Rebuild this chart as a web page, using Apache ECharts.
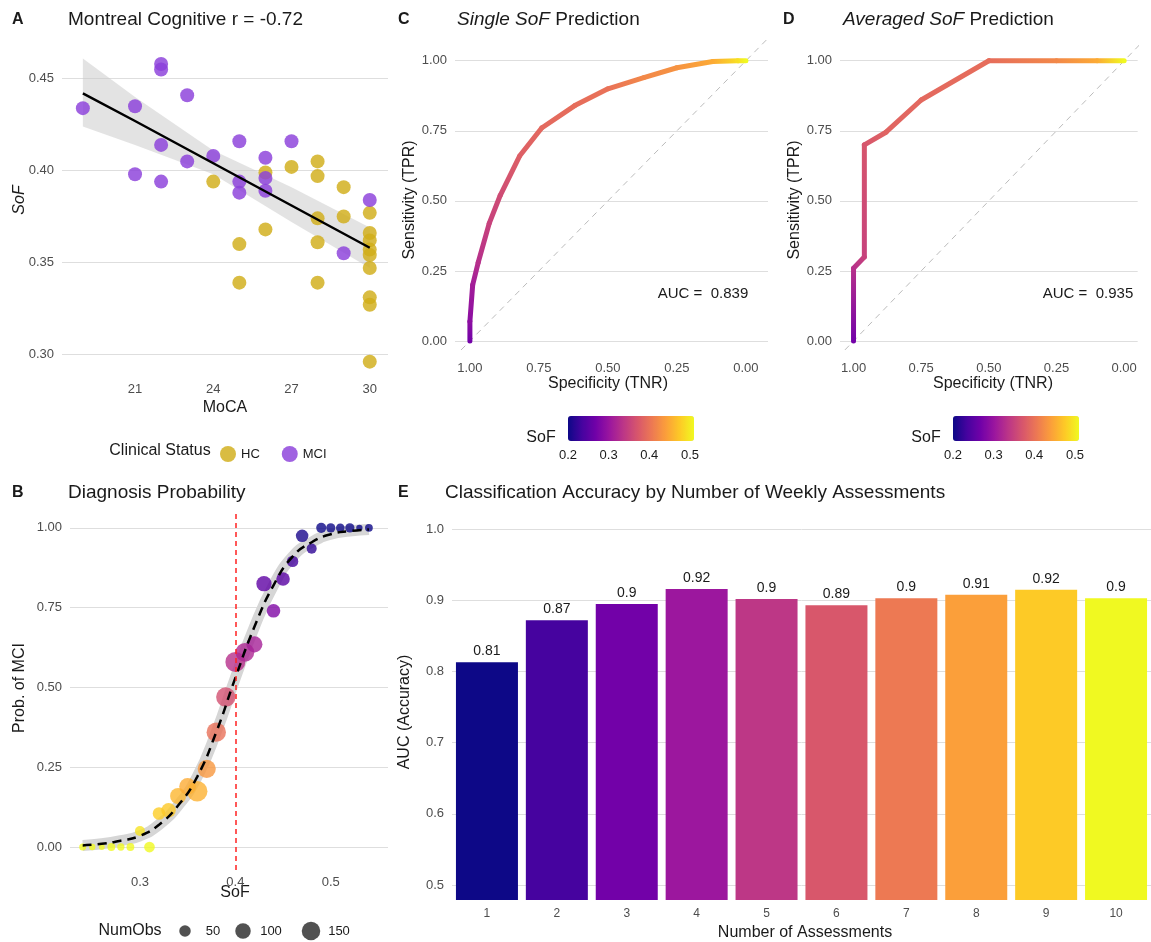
<!DOCTYPE html>
<html><head><meta charset="utf-8">
<script src="https://cdn.jsdelivr.net/npm/echarts@6/dist/echarts.min.js"></script>
<style>html,body{margin:0;background:#fff}#main{width:1151px;height:942px}</style>
</head><body><div id="main"></div>
<script>
// ---- panel A: MoCA vs SoF
var hcPoints = [[24,0.394],[25,0.360],[25,0.339],[26,0.399],[26,0.368],[27,0.402],[28,0.405],[28,0.397],[28,0.374],[28,0.361],[28,0.339],
  [29,0.391],[29,0.375],[30,0.377],[30,0.366],[30,0.362],[30,0.357],[30,0.354],[30,0.347],[30,0.331],[30,0.327],[30,0.296]];
var mciPoints = [[19,0.434],[21,0.435],[21,0.398],[22,0.458],[22,0.455],[22,0.414],[22,0.394],[23,0.441],[23,0.405],[24,0.408],
  [25,0.416],[25,0.394],[25,0.388],[26,0.407],[26,0.396],[26,0.389],[27,0.416],[29,0.355],[30,0.384]];
var fitX = [19, 21, 24, 27, 30];
var fitY = [0.442, 0.427, 0.404, 0.381, 0.358];
var fitLow = [0.424, 0.414, 0.398, 0.372, 0.347];
var fitHigh = [0.461, 0.440, 0.411, 0.391, 0.369];
var mocaTicks = [21, 24, 27, 30];
var sofTicks = [0.30, 0.35, 0.40, 0.45];

// ---- panel B: diagnosis probability
var binSoF = [0.24,0.25,0.26,0.27,0.28,0.29,0.30,0.31,0.32,0.33,0.34,0.35,0.36,0.37,0.38,0.39,0.40,0.41,0.42,0.43,0.44,0.45,0.46,0.47,0.48,0.49,0.50,0.51,0.52,0.53,0.54];
var binProb = [0,0,0,0,0,0,0.05,0,0.105,0.115,0.16,0.19,0.175,0.245,0.36,0.47,0.58,0.61,0.635,0.825,0.74,0.84,0.895,0.975,0.935,1,1,1,1,1,1];
var binObs = [5,3,2,8,6,8,20,25,40,60,80,90,150,110,130,130,140,120,80,70,50,50,30,40,20,20,15,12,15,3,8];
var curveX = [0.24,0.26,0.28,0.30,0.32,0.34,0.36,0.38,0.40,0.42,0.44,0.46,0.48,0.50,0.52,0.54];
var curveY = [0.005,0.01,0.02,0.035,0.07,0.13,0.22,0.36,0.53,0.69,0.82,0.91,0.955,0.98,0.99,0.995];
var probTicks = [0, 0.25, 0.5, 0.75, 1];
var sofBTicks = [0.3, 0.4, 0.5];
var obsLegend = [50, 100, 150];

// ---- panels C, D: ROC [specificity, sensitivity, threshold]
var rocSingle = [[1,0,0.27],[1,0.07,0.29],[0.99,0.2,0.31],[0.97,0.28,0.33],[0.93,0.42,0.35],[0.89,0.52,0.36],[0.82,0.66,0.38],[0.74,0.76,0.39],
  [0.62,0.84,0.395],[0.5,0.9,0.40],[0.37,0.94,0.42],[0.25,0.975,0.43],[0.12,0.997,0.45],[0.03,1,0.49],[0,1,0.51]];
var rocAvg = [[1,0,0.27],[1,0.26,0.33],[0.96,0.3,0.35],[0.96,0.70,0.37],[0.88,0.745,0.385],[0.75,0.86,0.39],[0.5,1,0.395],[0.25,1,0.42],[0.1,1,0.45],[0,1,0.51]];
var rocTicks = [0, 0.25, 0.5, 0.75, 1];

// ---- panel E
var nAssess = ['1','2','3','4','5','6','7','8','9','10'];
var aucVals = [0.813,0.872,0.895,0.916,0.902,0.893,0.903,0.908,0.915,0.903];
var aucLabels = ['0.81','0.87','0.9','0.92','0.9','0.89','0.9','0.91','0.92','0.9'];
var aucTicks = [0.5,0.6,0.7,0.8,0.9,1.0];

var plasma = ['#0d0887','#46039f','#7201a8','#9c179e','#bd3786','#d8576b','#ed7953','#fb9f3a','#fdca26','#f0f921'];
var FONT = 'Liberation Sans';
var GRID = '#dedede';
var SOF_MIN = 0.2, SOF_MAX = 0.51;

function plasmaAt(v) {
  var t = Math.max(0, Math.min(1, (v - SOF_MIN) / (SOF_MAX - SOF_MIN))) * (plasma.length - 1);
  var i = Math.min(Math.floor(t), plasma.length - 2), f = t - i;
  var a = echarts.color.parse(plasma[i]), b = echarts.color.parse(plasma[i + 1]);
  return 'rgb(' + [0, 1, 2].map(function (k) { return Math.round(a[k] + (b[k] - a[k]) * f); }).join(',') + ')';
}
function obsSize(n) { return 4 + 1.35 * Math.sqrt(n); }

function valAxis(gi, min, max, ticks, fmt, extra) {
  var a = {
    gridIndex: gi, type: 'value', min: min, max: max,
    axisLine: {show: false}, axisTick: {show: false}, splitLine: {show: false},
    axisLabel: {customValues: ticks, formatter: fmt, color: '#4d4d4d', fontSize: 13, fontFamily: FONT}
  };
  for (var k in extra) a[k] = extra[k];
  return a;
}
function gridSeries(ax, ticks) {
  return {type: 'line', xAxisIndex: ax, yAxisIndex: ax, data: [], z: 0, silent: true,
    markLine: {silent: true, symbol: 'none', label: {show: false}, animation: false, z: 0,
      lineStyle: {color: GRID, type: 'solid', width: 1},
      data: ticks.map(function (v) { return {yAxis: v}; })}};
}
function f2(v) { return v.toFixed(2); }

// ROC path drawn segment by segment, colour following threshold
function rocSeries(ax, pts) {
  var segs = [];
  for (var i = 0; i < pts.length - 1; i++) segs.push([pts[i][0], pts[i][1], pts[i + 1][0], pts[i + 1][1], pts[i][2], pts[i + 1][2]]);
  return {type: 'custom', xAxisIndex: ax, yAxisIndex: ax, data: segs, z: 3,
    renderItem: function (params, api) {
      var p1 = api.coord([api.value(0), api.value(1)]), p2 = api.coord([api.value(2), api.value(3)]);
      return {type: 'line', shape: {x1: p1[0], y1: p1[1], x2: p2[0], y2: p2[1]},
        style: {lineWidth: 5, lineCap: 'round',
          stroke: new echarts.graphic.LinearGradient(p1[0], p1[1], p2[0], p2[1] + 0.01,
            [{offset: 0, color: plasmaAt(api.value(4))}, {offset: 1, color: plasmaAt(api.value(5))}], true)}};
    }};
}

var chart = echarts.init(document.getElementById('main'));

var series = [];
// A
series.push(gridSeries(0, sofTicks));
series.push({type: 'custom', xAxisIndex: 0, yAxisIndex: 0, data: [0], silent: true, z: 1,
  renderItem: function (params, api) {
    var pts = [];
    fitX.forEach(function (x, i) { pts.push(api.coord([x, fitHigh[i]])); });
    for (var i = fitX.length - 1; i >= 0; i--) pts.push(api.coord([fitX[i], fitLow[i]]));
    return {type: 'polygon', shape: {points: pts}, style: {fill: 'rgba(200,200,200,0.5)'}};
  }});
series.push({name: 'HC', type: 'scatter', xAxisIndex: 0, yAxisIndex: 0, data: hcPoints, symbolSize: 14, z: 2, itemStyle: {color: '#d1ad19', opacity: 0.82}});
series.push({name: 'MCI', type: 'scatter', xAxisIndex: 0, yAxisIndex: 0, data: mciPoints, symbolSize: 14, z: 2, itemStyle: {color: '#8b3fdb', opacity: 0.82}});
series.push({type: 'line', xAxisIndex: 0, yAxisIndex: 0, symbol: 'none', z: 3, data: fitX.map(function (x, i) { return [x, fitY[i]]; }), lineStyle: {color: '#000', width: 2.5}});
// B
series.push(gridSeries(1, probTicks));
series.push({type: 'line', xAxisIndex: 1, yAxisIndex: 1, symbol: 'none', smooth: true, silent: true, z: 1,
  data: curveX.map(function (x, i) { return [x, curveY[i]]; }), lineStyle: {color: '#d6d6d6', width: 11}});
var bIdx = series.length;
series.push({type: 'scatter', xAxisIndex: 1, yAxisIndex: 1, z: 2,
  data: binSoF.map(function (x, i) { return [x, binProb[i], binObs[i]]; }),
  symbolSize: function (d) { return obsSize(d[2]); }, itemStyle: {opacity: 0.8}});
series.push({type: 'line', xAxisIndex: 1, yAxisIndex: 1, symbol: 'none', smooth: true, z: 3,
  data: curveX.map(function (x, i) { return [x, curveY[i]]; }), lineStyle: {color: '#000', width: 2.5, type: [9, 6]},
  markLine: {silent: true, symbol: 'none', label: {show: false}, lineStyle: {color: '#ff2222', type: [5, 4], width: 1.5}, data: [{xAxis: 0.4}]}});
// C
series.push(gridSeries(2, rocTicks));
series.push({type: 'line', xAxisIndex: 2, yAxisIndex: 2, symbol: 'none', silent: true, z: 1, data: [[1.06, -0.06], [-0.1, 1.1]],
  lineStyle: {color: '#bbbbbb', type: [6, 5], width: 1}});
series.push(rocSeries(2, rocSingle));
// D
series.push(gridSeries(3, rocTicks));
series.push({type: 'line', xAxisIndex: 3, yAxisIndex: 3, symbol: 'none', silent: true, z: 1, data: [[1.06, -0.06], [-0.1, 1.1]],
  lineStyle: {color: '#bbbbbb', type: [6, 5], width: 1}});
series.push(rocSeries(3, rocAvg));
// E
series.push(gridSeries(4, aucTicks));
series.push({type: 'bar', xAxisIndex: 4, yAxisIndex: 4, data: aucVals, barWidth: 62, z: 2,
  itemStyle: {color: function (p) { return plasma[p.dataIndex]; }},
  label: {show: true, position: 'top', distance: 4, color: '#1a1a1a', fontSize: 14, fontFamily: FONT,
    formatter: function (p) { return aucLabels[p.dataIndex]; }}});

var titleStyle = {fontSize: 19, fontWeight: 'normal', color: '#1a1a1a', fontFamily: FONT, rich: {i: {fontSize: 19, fontStyle: 'italic', color: '#1a1a1a', fontFamily: FONT}}};
var tagStyle = {fontSize: 16, fontWeight: 'bold', color: '#1a1a1a', fontFamily: FONT};
function T(text, x, y, st) { return {text: text, left: x, top: y, padding: 0, textStyle: st}; }

function txt(x, y, s, opt) {
  var st = {text: s, fill: opt && opt.fill || '#1a1a1a', font: (opt && opt.font) || ('16px ' + FONT),
    textAlign: opt && opt.align || 'center', textVerticalAlign: 'middle'};
  var g = {type: 'text', x: x, y: y, style: st, silent: true};
  if (opt && opt.rot) g.rotation = Math.PI / 2;
  return g;
}

var graphics = [
  txt(225, 408, 'MoCA'), txt(20, 200, 'SoF', {rot: 1, font: 'italic 16px ' + FONT}),
  txt(160, 451, 'Clinical Status', {align: 'center'}),
  txt(235, 893, 'SoF'), txt(20, 688, 'Prob. of MCI', {rot: 1}),
  txt(130, 931, 'NumObs'),
  txt(608, 384, 'Specificity (TNR)'), txt(410, 200, 'Sensitivity (TPR)', {rot: 1}),
  txt(993, 384, 'Specificity (TNR)'), txt(795, 200, 'Sensitivity (TPR)', {rot: 1}),
  txt(703, 294, 'AUC =  0.839', {font: '15px ' + FONT}), txt(1088, 294, 'AUC =  0.935', {font: '15px ' + FONT}),
  txt(541, 438, 'SoF'), txt(926, 438, 'SoF'),
  txt(805, 933, 'Number of Assessments'), txt(405, 712, 'AUC (Accuracy)', {rot: 1})
];
var legX = [185, 243, 311];
obsLegend.forEach(function (n, i) {
  graphics.push({type: 'circle', silent: true, shape: {cx: legX[i], cy: 931, r: obsSize(n) / 2 - 1}, style: {fill: '#333', opacity: 0.85}});
  graphics.push(txt(legX[i] + 28, 931, String(n), {font: '13px ' + FONT}));
});

var cbAxis = function (gi) {
  return {gridIndex: gi, type: 'value', min: 0.2, max: 0.51, interval: 0.1, axisLine: {show: false}, axisTick: {show: false}, splitLine: {show: false},
    axisLabel: {color: '#1a1a1a', fontSize: 13, fontFamily: FONT, margin: 7, formatter: function (v) { return v.toFixed(1); }}};
};
var cbMap = function (x) {
  return {type: 'continuous', seriesIndex: [], dimension: 0, min: SOF_MIN, max: SOF_MAX, inRange: {color: plasma},
    orient: 'horizontal', left: x, top: 416, itemWidth: 25, itemHeight: 126, text: null, showLabel: false, calculable: false, hoverLink: false, padding: 0};
};

var option = {
  backgroundColor: '#fff',
  animation: false,
  textStyle: {fontFamily: FONT},
  title: [
    T('A', 12, 12, tagStyle), T('Montreal Cognitive r = -0.72', 68, 10, titleStyle),
    T('C', 398, 12, tagStyle), T('{i|Single SoF} Prediction', 457, 10, titleStyle),
    T('D', 783, 12, tagStyle), T('{i|Averaged SoF} Prediction', 843, 10, titleStyle),
    T('B', 12, 485, tagStyle), T('Diagnosis Probability', 68, 483, titleStyle),
    T('E', 398, 485, tagStyle), T('Classification Accuracy by Number of Weekly Assessments', 445, 483, titleStyle)
  ],
  legend: {data: ['HC', 'MCI'], left: 215, top: 441, itemGap: 22, icon: 'circle', itemWidth: 16, itemHeight: 16,
    textStyle: {fontSize: 13, color: '#1a1a1a', fontFamily: FONT}},
  grid: [
    {left: 62, top: 42, width: 326, height: 327},
    {left: 70, top: 510, width: 318, height: 360},
    {left: 455, top: 40, width: 313, height: 310},
    {left: 840, top: 40, width: 310, height: 310},
    {left: 452, top: 505, width: 710, height: 395},
    {left: 568, top: 441, width: 126, height: 1},
    {left: 953, top: 441, width: 126, height: 1}
  ],
  xAxis: [
    valAxis(0, 18.2, 30.7, mocaTicks, null, {axisLabel: {customValues: mocaTicks, color: '#4d4d4d', fontSize: 13, fontFamily: FONT, margin: 14}}),
    valAxis(1, 0.2267, 0.56, sofBTicks, null, {axisLabel: {customValues: sofBTicks, color: '#4d4d4d', fontSize: 13, fontFamily: FONT, margin: 6,
      formatter: function (v) { return v.toFixed(1); }}}),
    valAxis(2, -0.08, 1.054, rocTicks, f2, {inverse: true, axisLabel: {customValues: rocTicks, formatter: f2, color: '#4d4d4d', fontSize: 13, fontFamily: FONT, margin: 12}}),
    valAxis(3, -0.05, 1.05, rocTicks, f2, {inverse: true, axisLabel: {customValues: rocTicks, formatter: f2, color: '#4d4d4d', fontSize: 13, fontFamily: FONT, margin: 12}}),
    {gridIndex: 4, type: 'category', data: nAssess, axisLine: {show: false}, axisTick: {show: false},
      axisLabel: {color: '#4d4d4d', fontSize: 12, fontFamily: FONT, margin: 8}},
    cbAxis(5), cbAxis(6)
  ],
  yAxis: [
    valAxis(0, 0.292, 0.47, sofTicks, f2),
    valAxis(1, -0.072, 1.056, probTicks, f2),
    valAxis(2, -0.032, 1.074, rocTicks, f2),
    valAxis(3, -0.032, 1.074, rocTicks, f2),
    valAxis(4, 0.479, 1.034, aucTicks, function (v) { return v.toFixed(1); }),
    {gridIndex: 5, type: 'value', show: false},
    {gridIndex: 6, type: 'value', show: false}
  ],
  visualMap: [
    {type: 'continuous', show: false, seriesIndex: bIdx, dimension: 1, min: 0, max: 1, inRange: {color: plasma.slice().reverse()}},
    cbMap(568), cbMap(953)
  ],
  graphic: graphics,
  series: series
};
chart.setOption(option);
</script></body></html>
